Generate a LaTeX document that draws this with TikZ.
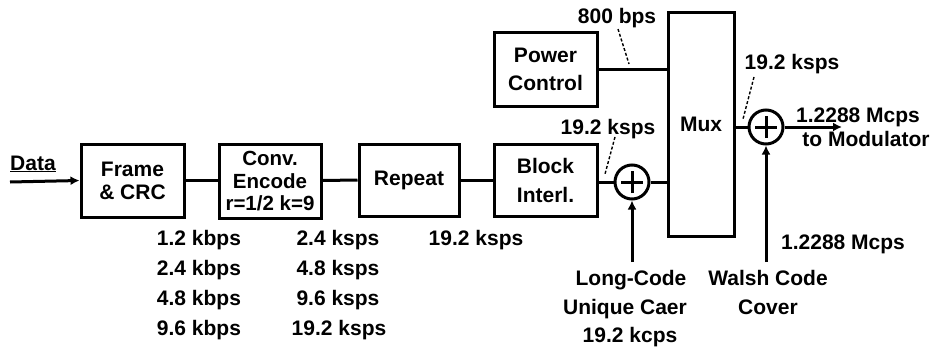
\documentclass[tikz,border=0pt]{standalone}
\usepackage{fontspec}
\setmainfont{Liberation Sans}
\usetikzlibrary{arrows.meta}
\begin{document}
\begin{tikzpicture}[x=1pt,y=-1pt,
  box/.style={draw,line width=3pt,inner sep=0pt,align=center,font=\bfseries\fontsize{21}{25}\selectfont},
  sum/.style={draw,circle,line width=3pt,minimum size=34pt,inner sep=0pt},
  wire/.style={line width=3pt},
  arr/.style={line width=3pt,-{Latex[length=9pt,width=9pt]}},
  lead/.style={line width=1.4pt,dash pattern=on 3pt off 2pt},
  lbl/.style={font=\bfseries\fontsize{21}{24}\selectfont,inner sep=0pt,anchor=base}]
\useasboundingbox (0,0) rectangle (936,353);

% blocks
\node[box,minimum width=103pt,minimum height=73pt] (frame) at (132.5,180.5) {Frame\\[-2pt]\& CRC};
\node[box,minimum width=102pt,minimum height=74pt,font=\bfseries\fontsize{20.5}{22.5}\selectfont] (conv) at (270,181.5) {Conv.\\Encode\\r=1/2 k=9};
\node[box,minimum width=100pt,minimum height=72pt] (rep) at (409,180) {Repeat};
\node[box,minimum width=103pt,minimum height=72pt] (blk) at (545.5,180) {Block\\[4pt]Interl.};
\node[box,minimum width=103pt,minimum height=73pt] (pc) at (545.5,69.5) {Power\\[3pt]Control};
\node[box,minimum width=66pt,minimum height=223pt] (mux) at (701,124.5) {Mux};
\node[sum] (s1) at (632,182) {};
\node[sum] (s2) at (766,127) {};
\foreach \s in {s1,s2}{
  \draw[wire] ([xshift=-11pt]\s.center) -- ([xshift=11pt]\s.center);
  \draw[wire] ([yshift=-11pt]\s.center) -- ([yshift=11pt]\s.center);
}

% connectors
\coordinate (data) at (10,182);
\coordinate (out) at (842,127);
\coordinate (lc) at (632,262);
\coordinate (wc) at (766,262);
\draw[arr] (data) -- (frame.west);
\draw[wire] (frame.east) -- (frame.east -| conv.west);
\draw[wire] (conv.east |- frame.east) -- (rep.west);
\draw[wire] (rep.east) -- (blk.west);
\draw[wire] (blk.east |- s1.west) -- (s1.west);
\draw[wire] (s1.east) -- (s1.east -| mux.west);
\draw[wire] (pc.east) -- (pc.east -| mux.west);
\draw[wire] (s2.west -| mux.east) -- (s2.west);
\draw[arr] (s2.east) -- (out);
\draw[arr] (lc) -- (s1.south);
\draw[arr] (wc) -- (s2.south);

% dashed leaders
\coordinate (la1) at (618,29);  \coordinate (lb1) at (629,64);
\coordinate (la2) at (615,137); \coordinate (lb2) at (605,174);
\coordinate (la3) at (754,77);  \coordinate (lb3) at (743,119);
\draw[lead] (la1) -- (lb1);
\draw[lead] (la2) -- (lb2);
\draw[lead] (la3) -- (lb3);

% labels
\node[lbl] (ldata) at (33,170) {\underline{Data}};
\node[lbl] (l800) at (617,24) {800 bps};
\node[lbl] (l192a) at (608,134) {19.2 ksps};
\node[lbl] (l192b) at (792,70) {19.2 ksps};
\node[lbl] (lmc1) at (858,122) {1.2288 Mcps};
\node[lbl] (lmod) at (866,146) {to Modulator};
\node[lbl] (lmc2) at (843,249) {1.2288 Mcps};
\node[lbl] (llc) at (631,285) {Long-Code};
\node[lbl] (luc) at (625,314) {Unique Caer};
\node[lbl] (lkc) at (630,342) {19.2 kcps};
\node[lbl] (lwc) at (768,285) {Walsh Code};
\node[lbl] (lcov) at (768,314) {Cover};
\node[lbl] (c11) at (199,245) {1.2 kbps};
\node[lbl] (c12) at (199,275) {2.4 kbps};
\node[lbl] (c13) at (199,305) {4.8 kbps};
\node[lbl] (c14) at (199,335) {9.6 kbps};
\node[lbl] (c21) at (338,245) {2.4 ksps};
\node[lbl] (c22) at (338,275) {4.8 ksps};
\node[lbl] (c23) at (338,305) {9.6 ksps};
\node[lbl] (c24) at (339,335) {19.2 ksps};
\node[lbl] (c31) at (476,245) {19.2 ksps};
\end{tikzpicture}
\end{document}
